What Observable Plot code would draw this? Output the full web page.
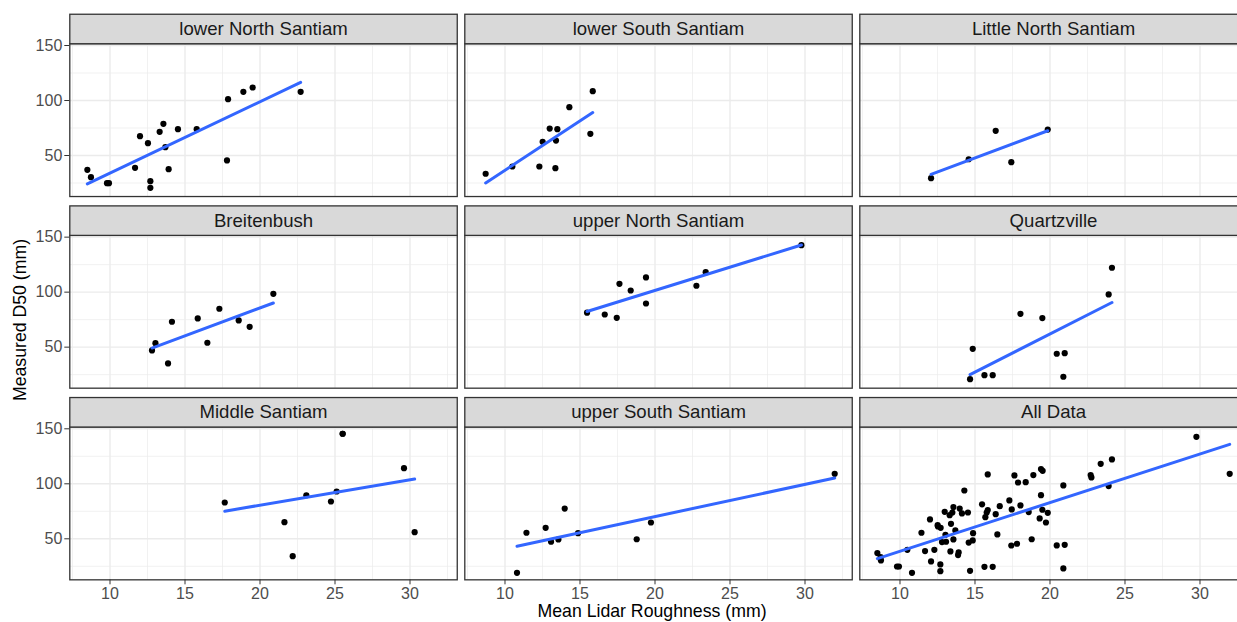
<!DOCTYPE html>
<html>
<head>
<meta charset="utf-8">
<script src="https://cdn.jsdelivr.net/npm/d3@7"></script>
<script src="https://cdn.jsdelivr.net/npm/@observablehq/plot@0.6"></script>
<style>
html, body { margin: 0; padding: 0; background: #ffffff; overflow: hidden; }
#chart { width: 1237px; height: 622px; overflow: hidden; position: relative; }
#chart svg { max-width: none !important; }
</style>
</head>
<body>
<div id="chart"></div>
<script>
// ---------- data ----------
const panels = ["lower North Santiam", "lower South Santiam", "Little North Santiam",
                "Breitenbush", "upper North Santiam", "Quartzville",
                "Middle Santiam", "upper South Santiam", "All Data"];

const lowerNorthSantiamRoughness = [8.49, 8.73, 9.80, 9.93, 11.67, 12.00, 12.53, 12.69, 12.69, 13.31, 13.56, 13.69, 13.91, 14.53, 15.78, 17.80, 17.87, 18.89, 19.51, 22.71];
const lowerNorthSantiamD50       = [37.0, 30.3, 24.8, 24.8, 38.8, 67.6, 61.2, 26.7, 20.6, 71.5, 78.8, 57.6, 37.6, 73.9, 73.9, 45.5, 101.2, 107.9, 111.8, 107.9];

const lowerSouthSantiamRoughness = [8.71, 10.49, 12.29, 12.51, 12.98, 13.36, 13.40, 13.49, 14.29, 15.69, 15.85];
const lowerSouthSantiamD50       = [33.4, 40.0, 40.0, 62.4, 74.5, 38.5, 63.6, 73.9, 93.9, 69.7, 108.5];

const littleNorthSantiamRoughness = [12.07, 14.58, 16.38, 17.42, 19.85];
const littleNorthSantiamD50       = [29.4, 46.6, 72.4, 43.9, 73.6];

const breitenbushRoughness = [12.80, 13.03, 13.87, 14.13, 15.85, 16.49, 17.29, 18.58, 19.31, 20.89];
const breitenbushD50       = [47.0, 53.6, 35.2, 73.1, 76.1, 54.0, 84.9, 74.3, 68.5, 98.5];

const upperNorthSantiamRoughness = [15.47, 16.65, 17.45, 17.63, 18.38, 19.40, 19.40, 22.76, 23.38, 29.76];
const upperNorthSantiamD50       = [81.3, 79.7, 76.7, 107.6, 101.5, 89.7, 113.4, 105.8, 118.2, 142.7];

const quartzvilleRoughness = [14.67, 14.85, 15.63, 16.18, 18.03, 19.49, 20.45, 20.98, 20.89, 23.91, 24.13];
const quartzvilleD50       = [20.9, 48.5, 24.5, 24.5, 80.3, 76.4, 44.0, 44.5, 23.1, 97.9, 122.2];

// the 145.5 mm site appears twice (two overlapping dots), as the fitted line implies
const middleSantiamRoughness = [17.65, 21.63, 22.18, 23.09, 24.73, 25.11, 25.51, 25.51, 29.60, 30.31];
const middleSantiamD50       = [83.0, 65.1, 34.2, 89.6, 83.9, 93.0, 145.5, 145.5, 114.2, 56.0];

const upperSouthSantiamRoughness = [10.80, 11.43, 12.71, 13.07, 13.56, 13.98, 14.87, 18.78, 19.73, 31.98];
const upperSouthSantiamD50       = [19.1, 55.5, 60.0, 47.3, 49.4, 77.5, 55.1, 49.6, 64.8, 109.1];

// groups pooled in the "All Data" panel (Middle Santiam is not part of it in the reference)
const allDataGroups = ["lower North Santiam", "lower South Santiam", "Little North Santiam",
                       "Breitenbush", "upper North Santiam", "Quartzville", "upper South Santiam"];

const xMajorTicks = [10, 15, 20, 25, 30];
const xMinorTicks = [7.5, 12.5, 17.5, 22.5, 27.5, 32.5];
const yMajorTicks = [50, 100, 150];
const yMinorTicks = [25, 75, 125];

// ---------- table built from the arrays ----------
const groupData = {
  "lower North Santiam": [lowerNorthSantiamRoughness, lowerNorthSantiamD50],
  "lower South Santiam": [lowerSouthSantiamRoughness, lowerSouthSantiamD50],
  "Little North Santiam": [littleNorthSantiamRoughness, littleNorthSantiamD50],
  "Breitenbush": [breitenbushRoughness, breitenbushD50],
  "upper North Santiam": [upperNorthSantiamRoughness, upperNorthSantiamD50],
  "Quartzville": [quartzvilleRoughness, quartzvilleD50],
  "Middle Santiam": [middleSantiamRoughness, middleSantiamD50],
  "upper South Santiam": [upperSouthSantiamRoughness, upperSouthSantiamD50]
};
const rows = [];
for (const name of Object.keys(groupData)) {
  const [xs, ys] = groupData[name];
  xs.forEach((v, j) => rows.push({panel: name, roughness: v, d50: ys[j]}));
}
for (const name of allDataGroups) {
  const [xs, ys] = groupData[name];
  xs.forEach((v, j) => rows.push({panel: "All Data", roughness: v, d50: ys[j]}));
}
const col = p => panels.indexOf(p) % 3;
const row = p => Math.floor(panels.indexOf(p) / 3);

// ---------- layout ----------
const W = 1247, H = 622;
const mL = 69.3, mR = 0.25, mT = 43.24, mB = 42.67;
const padX = 0.01911, padY = 0.20276;
const stepY = (H - mT - mB) / (3 - padY);
const panelH = stepY * (1 - padY);
const stripH = 29.5;
const FONT = "'Liberation Sans', Arial, Helvetica, sans-serif";

const chart = Plot.plot({
  width: W, height: H,
  marginLeft: mL, marginRight: mR, marginTop: mT, marginBottom: mB,
  style: {fontFamily: FONT, fontSize: "16px", background: "#ffffff", color: "#4D4D4D", maxWidth: "none"},
  x: {domain: [7.32, 33.15], axis: null},
  y: {domain: [12.7, 151.6], axis: null},
  fx: {domain: [0, 1, 2], axis: null, paddingInner: padX, paddingOuter: 0, round: false},
  fy: {domain: [0, 1, 2], axis: null, paddingInner: padY, paddingOuter: 0, round: false},
  marks: [
    Plot.gridX(xMinorTicks, {stroke: "#EBEBEB", strokeOpacity: 1, strokeWidth: 0.7}),
    Plot.gridY(yMinorTicks, {stroke: "#EBEBEB", strokeOpacity: 1, strokeWidth: 0.7}),
    Plot.gridX(xMajorTicks, {stroke: "#EBEBEB", strokeOpacity: 1, strokeWidth: 1.4}),
    Plot.gridY(yMajorTicks, {stroke: "#EBEBEB", strokeOpacity: 1, strokeWidth: 1.4}),
    Plot.dot(rows, {x: "roughness", y: "d50", fx: d => col(d.panel), fy: d => row(d.panel),
                    r: 3.1, fill: "#000000", stroke: null}),
    Plot.linearRegressionY(rows, {x: "roughness", y: "d50", fx: d => col(d.panel), fy: d => row(d.panel),
                    stroke: "#3366FF", strokeWidth: 3, ci: 0}),
    Plot.frame({stroke: "#333333", strokeWidth: 1.3}),
    Plot.frame({fill: "#D9D9D9", stroke: "#333333", strokeWidth: 1.3,
                insetTop: -stripH, insetBottom: panelH}),
    Plot.text(panels, {fx: (d, i) => i % 3, fy: (d, i) => Math.floor(i / 3), text: d => d,
                frameAnchor: "top", lineAnchor: "middle", dy: -stripH / 2,
                fontSize: 18.6, fill: "#1A1A1A"}),
    Plot.axisX({ticks: xMajorTicks, tickSize: 5, tickPadding: 2.5, label: null,
                stroke: "#333333", fill: "#4D4D4D", fontSize: 16}),
    Plot.axisY({ticks: yMajorTicks, tickSize: 5, tickPadding: 2.5, label: null,
                stroke: "#333333", fill: "#4D4D4D", fontSize: 16})
  ]
});

const svg = d3.select(chart);
svg.append("text")
  .attr("transform", "translate(26,320) rotate(-90)")
  .attr("text-anchor", "middle")
  .attr("font-family", FONT)
  .attr("font-size", 17.7)
  .attr("fill", "#000000")
  .text("Measured D50 (mm)");
svg.append("text")
  .attr("x", 652)
  .attr("y", 617)
  .attr("text-anchor", "middle")
  .attr("font-family", FONT)
  .attr("font-size", 17.7)
  .attr("fill", "#000000")
  .text("Mean Lidar Roughness (mm)");

document.getElementById("chart").appendChild(chart);
</script>
</body>
</html>
